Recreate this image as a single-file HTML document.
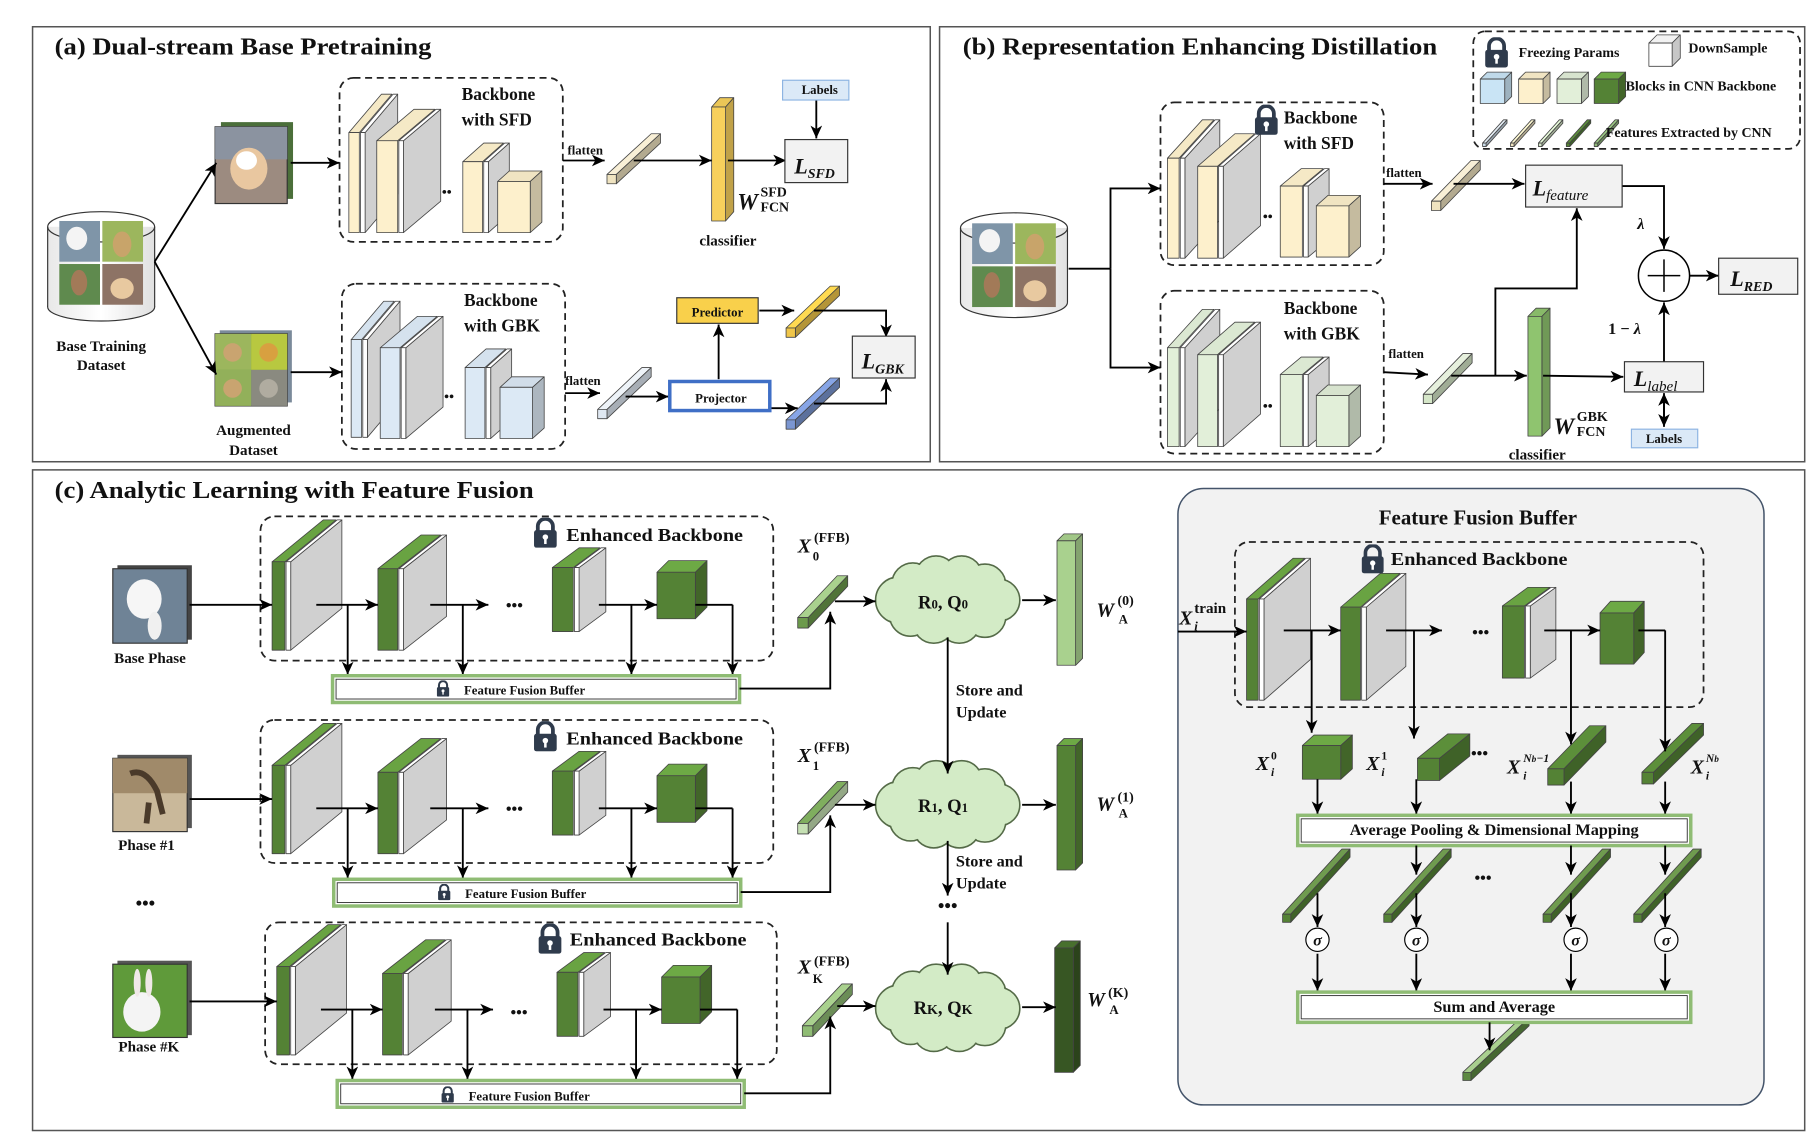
<!DOCTYPE html>
<html><head><meta charset="utf-8">
<style>
html,body{margin:0;padding:0;background:#fff;}
svg{display:block;}
text{font-family:"Liberation Serif",serif;font-weight:bold;fill:#111;}
.ln{stroke:#000;stroke-width:1.6;fill:none;}
.ar{stroke:#000;stroke-width:1.6;fill:none;marker-end:url(#ah);}
.dash{stroke:#222;stroke-width:1.5;fill:none;stroke-dasharray:6 4;}
.it{font-style:italic;}
</style></head>
<body>
<svg id="root" width="1814" height="1134" viewBox="0 0 1560 975" preserveAspectRatio="none" xmlns="http://www.w3.org/2000/svg">
<defs>
<marker id="ah" markerUnits="userSpaceOnUse" markerWidth="12" markerHeight="10" refX="11" refY="5" orient="auto">
<path d="M0,0 L11,5 L0,10 L3,5 z" fill="#000"/></marker>
<symbol id="lock" viewBox="0 0 20 24">
<path d="M4,11 V7 A6,6 0 0 1 16,7 V11" fill="none" stroke="#2f3b4c" stroke-width="3"/>
<rect x="1" y="10" width="18" height="14" rx="2" fill="#2f3b4c"/>
<circle cx="10" cy="15.5" r="2.2" fill="#fff"/><rect x="9" y="16" width="2" height="5" fill="#fff"/>
</symbol>
<linearGradient id="gbar" x1="0" y1="1" x2="1" y2="0"><stop offset="0" stop-color="#4f7a33"/><stop offset="1" stop-color="#b8d9a0"/></linearGradient>
<linearGradient id="gbar2" x1="0" y1="1" x2="1" y2="0"><stop offset="0" stop-color="#d5ecc3"/><stop offset="1" stop-color="#4f7a33"/></linearGradient>
<linearGradient id="cyl" x1="0" y1="0" x2="1" y2="0"><stop offset="0" stop-color="#e8e8e8"/><stop offset=".5" stop-color="#fff"/><stop offset="1" stop-color="#e0e0e0"/></linearGradient>
</defs>

<!-- panels -->
<rect x="28" y="23" width="772" height="374" fill="#fff" stroke="#555" stroke-width="1.3"/>
<rect x="808" y="23" width="744" height="374" fill="#fff" stroke="#555" stroke-width="1.3"/>
<rect x="28" y="404" width="1524" height="568" fill="#fff" stroke="#555" stroke-width="1.3"/>
<rect x="1013" y="420" width="504" height="530" rx="22" fill="#f2f2f2" stroke="#44546a" stroke-width="1.3"/>

<!-- dashed boxes -->
<rect class="dash" x="292" y="67" width="192" height="141" rx="12"/>
<rect class="dash" x="294" y="244" width="192" height="142" rx="12"/>
<rect class="dash" x="998" y="88" width="192" height="140" rx="12"/>
<rect class="dash" x="998" y="250" width="192" height="140" rx="12"/>
<rect class="dash" x="1267" y="27" width="281" height="101" rx="10"/>
<rect class="dash" x="224" y="444" width="441" height="124" rx="12"/>
<rect class="dash" x="224" y="619" width="441" height="123" rx="12"/>
<rect class="dash" x="228" y="793" width="440" height="122" rx="12"/>
<rect class="dash" x="1062" y="466" width="403" height="142" rx="12"/>

<g id="shapes"></g>

<!-- images (a) -->
<g>
<ellipse cx="87" cy="264" rx="46" ry="12" fill="url(#cyl)" stroke="#333"/>
<rect x="41" y="195" width="92" height="69" fill="url(#cyl)"/>
<line x1="41" y1="195" x2="41" y2="264" stroke="#333"/><line x1="133" y1="195" x2="133" y2="264" stroke="#333"/>
<ellipse cx="87" cy="195" rx="46" ry="13" fill="none" stroke="#333"/>
<rect x="51" y="190" width="35" height="35" fill="#7f95a8"/><ellipse cx="66" cy="205" rx="9" ry="10" fill="#f4f4f4"/>
<rect x="88" y="190" width="35" height="35" fill="#9cb65d"/><ellipse cx="105" cy="210" rx="8" ry="11" fill="#c8a46a"/>
<rect x="51" y="227" width="35" height="35" fill="#5f8a4e"/><ellipse cx="68" cy="243" rx="7" ry="11" fill="#a27a58"/>
<rect x="88" y="227" width="35" height="35" fill="#8d7365"/><ellipse cx="105" cy="248" rx="10" ry="9" fill="#e8c9a0"/>
</g>
<g>
<rect x="190" y="105" width="62" height="66" fill="#4b6f3a"/>
<rect x="185" y="109" width="62" height="66" fill="#9c8b80" stroke="#333"/>
<rect x="185" y="109" width="62" height="28" fill="#8b93a0"/>
<ellipse cx="214" cy="145" rx="16" ry="18" fill="#e9c7a0"/><ellipse cx="212" cy="138" rx="9" ry="8" fill="#fff"/>
</g>
<g>
<rect x="189" y="284" width="62" height="62" fill="#7a8a9a"/>
<rect x="185" y="287" width="62" height="62" fill="#6aa044" stroke="#333"/>
<rect x="185" y="287" width="31" height="31" fill="#9cb65d"/><rect x="216" y="287" width="31" height="31" fill="#b8c840"/>
<rect x="185" y="318" width="31" height="31" fill="#92b05a"/><rect x="216" y="318" width="31" height="31" fill="#8a8a80"/>
<circle cx="200" cy="303" r="8" fill="#c9a470"/><circle cx="231" cy="303" r="8" fill="#d8a040"/><circle cx="200" cy="334" r="8" fill="#c9a470"/><circle cx="231" cy="334" r="8" fill="#b0aca0"/>
</g>
<!-- images (b) cylinder -->
<g>
<ellipse cx="872" cy="260" rx="46" ry="13" fill="url(#cyl)" stroke="#333"/>
<rect x="826" y="196" width="92" height="64" fill="url(#cyl)"/>
<line x1="826" y1="196" x2="826" y2="260" stroke="#333"/><line x1="918" y1="196" x2="918" y2="260" stroke="#333"/>
<ellipse cx="872" cy="196" rx="46" ry="13" fill="none" stroke="#333"/>
<rect x="836" y="192" width="35" height="35" fill="#7f95a8"/><ellipse cx="851" cy="207" rx="9" ry="10" fill="#f4f4f4"/>
<rect x="873" y="192" width="35" height="35" fill="#9cb65d"/><ellipse cx="890" cy="212" rx="8" ry="11" fill="#c8a46a"/>
<rect x="836" y="229" width="35" height="35" fill="#5f8a4e"/><ellipse cx="853" cy="245" rx="7" ry="11" fill="#a27a58"/>
<rect x="873" y="229" width="35" height="35" fill="#8d7365"/><ellipse cx="890" cy="250" rx="10" ry="9" fill="#e8c9a0"/>
</g>
<!-- images (c) -->
<g>
<rect x="101" y="486" width="64" height="64" fill="#444"/>
<rect x="97" y="489" width="64" height="64" fill="#6f8396" stroke="#333"/>
<ellipse cx="124" cy="515" rx="15" ry="17" fill="#f6f6f6"/><ellipse cx="133" cy="538" rx="6" ry="12" fill="#f0f0f0"/>
<rect x="101" y="649" width="64" height="63" fill="#555"/>
<rect x="97" y="652" width="64" height="63" fill="#c9b89a" stroke="#333"/>
<rect x="97" y="652" width="64" height="30" fill="#a08a6a"/>
<path d="M112,665 Q125,660 135,680 L140,700 M128,690 L126,708" stroke="#4a3a2a" stroke-width="5" fill="none"/>
<rect x="101" y="826" width="64" height="64" fill="#555"/>
<rect x="97" y="829" width="64" height="63" fill="#5f9a3a" stroke="#333"/>
<ellipse cx="122" cy="870" rx="16" ry="17" fill="#f4f4f4"/><ellipse cx="118" cy="845" rx="3" ry="12" fill="#f0e8e8"/><ellipse cx="128" cy="845" rx="3" ry="12" fill="#f0e8e8"/>
</g>

<!-- clouds -->
<g id="clouds"></g>

<!-- connectors (a) -->
<line class="ar" x1="133" y1="225" x2="186" y2="140"/>
<line class="ar" x1="133" y1="225" x2="186" y2="322"/>
<line class="ar" x1="250" y1="140" x2="292" y2="140"/>
<line class="ar" x1="250" y1="320" x2="294" y2="320"/>
<line class="ar" x1="484" y1="138" x2="520" y2="138"/>
<line class="ar" x1="545" y1="138" x2="612" y2="138"/>
<line class="ar" x1="626" y1="138" x2="676" y2="138"/>
<line class="ar" x1="702" y1="86" x2="702" y2="119"/>
<line class="ar" x1="486" y1="338" x2="516" y2="338"/>
<line class="ar" x1="538" y1="341" x2="575" y2="341"/>
<line class="ar" x1="618" y1="326" x2="618" y2="279"/>
<line class="ar" x1="653" y1="267" x2="683" y2="267"/>
<polyline class="ar" points="700,267 762,267 762,290"/>
<line class="ar" x1="661" y1="351" x2="686" y2="351"/>
<polyline class="ar" points="700,347 762,347 762,326"/>
<!-- (b) -->
<polyline class="ln" points="919,231 955,231"/>
<polyline class="ar" points="955,231 955,162 998,162"/>
<polyline class="ar" points="955,231 955,316 998,316"/>
<line class="ar" x1="1190" y1="158" x2="1232" y2="158"/>
<line class="ar" x1="1250" y1="158" x2="1311" y2="158"/>
<polyline class="ar" points="1395,160 1431,160 1431,214"/>
<line class="ar" x1="1453" y1="237" x2="1478" y2="237"/>
<line class="ar" x1="1190" y1="320" x2="1228" y2="322"/>
<line class="ar" x1="1248" y1="323" x2="1313" y2="323"/>
<polyline class="ar" points="1286,323 1286,248 1356,248 1356,179"/>
<line class="ar" x1="1327" y1="323" x2="1396" y2="324"/>
<line class="ar" x1="1431" y1="311" x2="1431" y2="260"/>
<line class="ar" x1="1431" y1="345" x2="1431" y2="367"/>
<line class="ar" x1="1431" y1="360" x2="1431" y2="338"/>
<circle cx="1431" cy="237" r="22" fill="#fff" stroke="#000" stroke-width="1.3"/>
<path d="M1417,237 H1445 M1431,223 V251" stroke="#000" stroke-width="1.3"/>

<!-- (c) rows -->
<g id="row0">
<line class="ar" x1="163" y1="520" x2="234" y2="520"/>
<line class="ar" x1="272" y1="520" x2="325" y2="520"/>
<line class="ar" x1="370" y1="520" x2="420" y2="520"/>
<line class="ar" x1="515" y1="520" x2="565" y2="520"/>
<polyline class="ln" points="598,520 630,520"/>
<line class="ar" x1="299" y1="520" x2="299" y2="580"/>
<line class="ar" x1="398" y1="520" x2="398" y2="580"/>
<line class="ar" x1="543" y1="520" x2="543" y2="580"/>
<line class="ar" x1="630" y1="520" x2="630" y2="580"/>
<rect x="286" y="581" width="350" height="23" fill="#fff" stroke="#8fbc74" stroke-width="3"/>
<rect x="289" y="584" width="344" height="17" fill="#fff" stroke="#333" stroke-width="0.8"/>
<polyline class="ar" points="636,592 714,592 714,526"/>
<line class="ar" x1="718" y1="517" x2="753" y2="517"/>
<line class="ar" x1="879" y1="516" x2="908" y2="516"/>
</g>
<g transform="translate(0,175)">
<line class="ar" x1="163" y1="512" x2="234" y2="512"/>
<line class="ar" x1="272" y1="520" x2="325" y2="520"/>
<line class="ar" x1="370" y1="520" x2="420" y2="520"/>
<line class="ar" x1="515" y1="520" x2="565" y2="520"/>
<polyline class="ln" points="598,520 630,520"/>
<line class="ar" x1="299" y1="520" x2="299" y2="580"/>
<line class="ar" x1="398" y1="520" x2="398" y2="580"/>
<line class="ar" x1="543" y1="520" x2="543" y2="580"/>
<line class="ar" x1="630" y1="520" x2="630" y2="580"/>
<rect x="287" y="581" width="350" height="23" fill="#fff" stroke="#8fbc74" stroke-width="3"/>
<rect x="290" y="584" width="344" height="17" fill="#fff" stroke="#333" stroke-width="0.8"/>
<polyline class="ar" points="637,592 714,592 714,526"/>
<line class="ar" x1="718" y1="517" x2="753" y2="517"/>
<line class="ar" x1="879" y1="517" x2="908" y2="517"/>
</g>
<g transform="translate(4,348)">
<line class="ar" x1="159" y1="513" x2="234" y2="513"/>
<line class="ar" x1="272" y1="520" x2="325" y2="520"/>
<line class="ar" x1="370" y1="520" x2="420" y2="520"/>
<line class="ar" x1="515" y1="520" x2="565" y2="520"/>
<polyline class="ln" points="598,520 630,520"/>
<line class="ar" x1="299" y1="520" x2="299" y2="580"/>
<line class="ar" x1="398" y1="520" x2="398" y2="580"/>
<line class="ar" x1="543" y1="520" x2="543" y2="580"/>
<line class="ar" x1="630" y1="520" x2="630" y2="580"/>
<rect x="286" y="581" width="350" height="23" fill="#fff" stroke="#8fbc74" stroke-width="3"/>
<rect x="289" y="584" width="344" height="17" fill="#fff" stroke="#333" stroke-width="0.8"/>
<polyline class="ar" points="636,592 710,592 710,526"/>
<line class="ar" x1="716" y1="517" x2="749" y2="517"/>
<line class="ar" x1="875" y1="518" x2="904" y2="518"/>
</g>
<line class="ar" x1="815" y1="548" x2="815" y2="665"/>
<line class="ar" x1="815" y1="723" x2="815" y2="770"/>
<line class="ar" x1="815" y1="793" x2="815" y2="838"/>
<text x="815" y="784" text-anchor="middle" font-size="16">•••</text>

<!-- FFB panel connectors -->
<line class="ar" x1="1013" y1="543" x2="1072" y2="543"/>
<line class="ar" x1="1104" y1="542" x2="1153" y2="542"/>
<line class="ar" x1="1192" y1="542" x2="1240" y2="542"/>
<line class="ar" x1="1328" y1="542" x2="1376" y2="542"/>
<polyline class="ln" points="1409,542 1432,542"/>
<line class="ar" x1="1128" y1="542" x2="1128" y2="630"/>
<line class="ar" x1="1216" y1="542" x2="1216" y2="635"/>
<line class="ar" x1="1351" y1="542" x2="1351" y2="640"/>
<line class="ar" x1="1432" y1="542" x2="1432" y2="646"/>
<line class="ar" x1="1133" y1="670" x2="1133" y2="700"/>
<line class="ar" x1="1218" y1="670" x2="1218" y2="700"/>
<line class="ar" x1="1351" y1="672" x2="1351" y2="700"/>
<line class="ar" x1="1432" y1="672" x2="1432" y2="700"/>
<rect x="1116" y="701" width="338" height="26" fill="#fff" stroke="#8fbc74" stroke-width="3"/>
<rect x="1119" y="704" width="332" height="20" fill="#fff" stroke="#333" stroke-width="0.8"/>
<line class="ar" x1="1218" y1="727" x2="1218" y2="752"/>
<line class="ar" x1="1351" y1="727" x2="1351" y2="752"/>
<line class="ar" x1="1432" y1="727" x2="1432" y2="752"/>
<line class="ar" x1="1133" y1="768" x2="1133" y2="797"/>
<line class="ar" x1="1218" y1="768" x2="1218" y2="797"/>
<line class="ar" x1="1351" y1="768" x2="1351" y2="797"/>
<line class="ar" x1="1432" y1="768" x2="1432" y2="797"/>
<line class="ar" x1="1133" y1="820" x2="1133" y2="852"/>
<line class="ar" x1="1218" y1="820" x2="1218" y2="852"/>
<line class="ar" x1="1351" y1="820" x2="1351" y2="852"/>
<line class="ar" x1="1432" y1="820" x2="1432" y2="852"/>
<rect x="1116" y="853" width="338" height="26" fill="#fff" stroke="#8fbc74" stroke-width="3"/>
<rect x="1119" y="856" width="332" height="20" fill="#fff" stroke="#333" stroke-width="0.8"/>
<line class="ar" x1="1281" y1="879" x2="1281" y2="903"/>
<g fill="#fff" stroke="#000" stroke-width="1">
<circle cx="1133" cy="808" r="10"/><circle cx="1218" cy="808" r="10"/><circle cx="1355" cy="808" r="10"/><circle cx="1433" cy="808" r="10"/></g>

<!-- loss boxes -->
<rect x="675" y="120" width="54" height="37" fill="#f2f2f2" stroke="#333"/>
<rect x="673" y="69" width="57" height="17" fill="#dbe9f7" stroke="#8db4e2"/>
<rect x="733" y="289" width="54" height="36" fill="#f2f2f2" stroke="#333"/>
<rect x="582" y="256" width="70" height="22" fill="#f9d04b" stroke="#333"/>
<rect x="576" y="328" width="86" height="25" fill="#fff" stroke="#3f6fc6" stroke-width="3"/>
<rect x="1312" y="142" width="83" height="36" fill="#f2f2f2" stroke="#333"/>
<rect x="1478" y="222" width="68" height="31" fill="#f2f2f2" stroke="#333"/>
<rect x="1397" y="311" width="68" height="26" fill="#f2f2f2" stroke="#333"/>
<rect x="1403" y="369" width="57" height="16" fill="#dbe9f7" stroke="#8db4e2"/>

<!-- locks -->
<use href="#lock" x="1276" y="32" width="22" height="26"/>
<use href="#lock" x="1078" y="90" width="22" height="26"/>
<use href="#lock" x="457" y="445" width="24" height="26"/>
<use href="#lock" x="457" y="620" width="24" height="26"/>
<use href="#lock" x="461" y="794" width="24" height="26"/>
<use href="#lock" x="1169" y="468" width="23" height="25"/>
<use href="#lock" x="375" y="585" width="12" height="14"/>
<use href="#lock" x="376" y="760" width="12" height="14"/>
<use href="#lock" x="379" y="934" width="12" height="14"/>

<!-- TEXT -->
<text x="47" y="47" font-size="21" textLength="324" lengthAdjust="spacingAndGlyphs">(a) Dual-stream Base Pretraining</text>
<text x="828" y="47" font-size="21" textLength="408" lengthAdjust="spacingAndGlyphs">(b) Representation Enhancing Distillation</text>
<text x="47" y="428" font-size="21" textLength="412" lengthAdjust="spacingAndGlyphs">(c) Analytic Learning with Feature Fusion</text>

<g font-size="15">
<text x="397" y="86">Backbone</text><text x="397" y="108">with SFD</text>
<text x="399" y="263">Backbone</text><text x="399" y="285">with GBK</text>
<text x="1104" y="106">Backbone</text><text x="1104" y="128">with SFD</text>
<text x="1104" y="270">Backbone</text><text x="1104" y="292">with GBK</text>
</g>
<g font-size="11">
<text x="488" y="133">flatten</text><text x="486" y="331">flatten</text>
<text x="1192" y="152">flatten</text><text x="1194" y="308">flatten</text>
<text x="705" y="81" text-anchor="middle">Labels</text>
<text x="617" y="272" text-anchor="middle">Predictor</text>
<text x="620" y="346" text-anchor="middle">Projector</text>
<text x="1431" y="381" text-anchor="middle">Labels</text>
</g>
<g font-size="13">
<text x="87" y="302" text-anchor="middle">Base Training</text><text x="87" y="318" text-anchor="middle">Dataset</text>
<text x="218" y="374" text-anchor="middle">Augmented</text><text x="218" y="391" text-anchor="middle">Dataset</text>
<text x="626" y="211" text-anchor="middle">classifier</text>
<text x="1322" y="395" text-anchor="middle">classifier</text>
<text x="129" y="570" text-anchor="middle">Base Phase</text>
<text x="126" y="731" text-anchor="middle">Phase #1</text>
<text x="128" y="904" text-anchor="middle">Phase #K</text>
</g>
<text x="125" y="782" text-anchor="middle" font-size="16">•••</text>
<!-- legend -->
<g font-size="12">
<text x="1306" y="49">Freezing Params</text>
<text x="1452" y="45">DownSample</text>
<text x="1398" y="78">Blocks in CNN Backbone</text>
<text x="1381" y="118">Features Extracted by CNN</text>
</g>
<!-- losses -->
<text x="683" y="149" font-size="19" class="it">L<tspan font-size="12" dy="4">SFD</tspan></text>
<text x="741" y="317" font-size="19" class="it">L<tspan font-size="12" dy="4">GBK</tspan></text>
<text x="1318" y="168" font-size="19" class="it">L<tspan font-size="13" dy="4" font-weight="normal">feature</tspan></text>
<text x="1488" y="246" font-size="19" class="it">L<tspan font-size="12" dy="4">RED</tspan></text>
<text x="1405" y="332" font-size="19" class="it">L<tspan font-size="13" dy="4" font-weight="normal">label</tspan></text>
<text x="1408" y="197" font-size="14" class="it" font-weight="normal">λ</text>
<text x="1383" y="287" font-size="14" font-weight="normal">1 − <tspan class="it">λ</tspan></text>
<text x="634" y="180" font-size="20" class="it">W</text><text x="654" y="169" font-size="12">SFD</text><text x="654" y="182" font-size="12">FCN</text>
<text x="1336" y="373" font-size="20" class="it">W</text><text x="1356" y="362" font-size="12">GBK</text><text x="1356" y="375" font-size="12">FCN</text>

<!-- enhanced backbone labels -->
<g font-size="15">
<text x="487" y="465" textLength="152" lengthAdjust="spacingAndGlyphs">Enhanced Backbone</text>
<text x="487" y="640" textLength="152" lengthAdjust="spacingAndGlyphs">Enhanced Backbone</text>
<text x="490" y="813" textLength="152" lengthAdjust="spacingAndGlyphs">Enhanced Backbone</text>
<text x="1196" y="486" textLength="152" lengthAdjust="spacingAndGlyphs">Enhanced Backbone</text>
</g>
<g font-size="11">
<text x="399" y="597">Feature Fusion Buffer</text>
<text x="400" y="772">Feature Fusion Buffer</text>
<text x="403" y="946">Feature Fusion Buffer</text>
</g>
<g font-size="14">
<text x="822" y="598">Store and</text><text x="822" y="617">Update</text>
<text x="822" y="745">Store and</text><text x="822" y="764">Update</text>
</g>
<!-- X FFB labels -->
<g>
<text x="686" y="475" font-size="17" class="it">X</text><text x="699" y="482" font-size="11">0</text><text x="700" y="466" font-size="12" font-weight="normal">(FFB)</text>
<text x="686" y="655" font-size="17" class="it">X</text><text x="699" y="662" font-size="11">1</text><text x="700" y="646" font-size="12" font-weight="normal">(FFB)</text>
<text x="686" y="837" font-size="17" class="it">X</text><text x="699" y="845" font-size="11">K</text><text x="700" y="830" font-size="12" font-weight="normal">(FFB)</text>
</g>
<g>
<text x="943" y="530" font-size="17" class="it">W</text><text x="962" y="536" font-size="11">A</text><text x="961" y="520" font-size="12" font-weight="normal">(0)</text>
<text x="943" y="697" font-size="17" class="it">W</text><text x="962" y="703" font-size="11">A</text><text x="961" y="689" font-size="12" font-weight="normal">(1)</text>
<text x="935" y="865" font-size="17" class="it">W</text><text x="954" y="872" font-size="11">A</text><text x="953" y="857" font-size="12" font-weight="normal">(K)</text>
</g>
<g font-size="16" text-anchor="middle">
<text x="811" y="523">R<tspan font-size="11">0</tspan>, Q<tspan font-size="11">0</tspan></text>
<text x="811" y="698">R<tspan font-size="11">1</tspan>, Q<tspan font-size="11">1</tspan></text>
<text x="811" y="872">R<tspan font-size="12">K</tspan>, Q<tspan font-size="12">K</tspan></text>
</g>
<!-- FFB panel text -->
<text x="1271" y="451" font-size="18" text-anchor="middle">Feature Fusion Buffer</text>
<text x="1014" y="537" font-size="17" class="it">X</text><text x="1027" y="542" font-size="11" class="it">i</text><text x="1027" y="527" font-size="13" font-weight="normal">train</text>
<text x="1080" y="662" font-size="17" class="it">X</text><text x="1093" y="667" font-size="10" class="it">i</text><text x="1093" y="653" font-size="10">0</text>
<text x="1175" y="662" font-size="17" class="it">X</text><text x="1188" y="667" font-size="10" class="it">i</text><text x="1188" y="653" font-size="10">1</text>
<text x="1265" y="652" font-size="14">•••</text>
<text x="1296" y="665" font-size="17" class="it">X</text><text x="1310" y="670" font-size="10" class="it">i</text><text x="1310" y="655" font-size="10" class="it">N<tspan font-size="8">b</tspan>−1</text>
<text x="1454" y="665" font-size="17" class="it">X</text><text x="1467" y="670" font-size="10" class="it">i</text><text x="1467" y="655" font-size="10" class="it">N<tspan font-size="8">b</tspan></text>
<text x="1266" y="548" font-size="14">•••</text>
<text x="435" y="525" font-size="14">•••</text>
<text x="435" y="700" font-size="14">•••</text>
<text x="439" y="875" font-size="14">•••</text>
<text x="1086" y="190" font-size="12">••</text>
<text x="1086" y="353" font-size="12">••</text>
<text x="380" y="169" font-size="12">••</text>
<text x="382" y="345" font-size="12">••</text>
<text x="1268" y="759" font-size="14">•••</text>
<text x="1285" y="718" font-size="14" text-anchor="middle">Average Pooling &amp; Dimensional Mapping</text>
<text x="1285" y="870" font-size="14" text-anchor="middle">Sum and Average</text>
<g font-size="14" class="it" text-anchor="middle">
<text x="1133" y="813">σ</text><text x="1218" y="813">σ</text><text x="1355" y="813">σ</text><text x="1433" y="813">σ</text></g>

<script>
(function(){
var NS="http://www.w3.org/2000/svg",S=document.getElementById('shapes'),C=document.getElementById('clouds');
function P(pts,fill,par,st){var e=document.createElementNS(NS,'polygon');e.setAttribute('points',pts.map(function(p){return p[0]+','+p[1]}).join(' '));e.setAttribute('fill',fill);e.setAttribute('stroke',st||'#444');e.setAttribute('stroke-width','0.7');e.setAttribute('stroke-linejoin','round');(par||S).appendChild(e);}
function shade(c,f){var n=parseInt(c.slice(1),16),r=(n>>16)&255,g=(n>>8)&255,b=n&255;r=Math.round(r*f);g=Math.round(g*f);b=Math.round(b*f);return 'rgb('+Math.min(r,255)+','+Math.min(g,255)+','+Math.min(b,255)+')';}
function plate(x,y,fw,h,dx,dy,c){var wx=x+fw+1,gw=4;
 P([[wx+gw,y],[wx+gw+dx,y-dy],[wx+gw+dx,y+h-dy],[wx+gw,y+h]],'#d0d0d0');
 P([[wx,y],[wx+dx,y-dy],[wx+gw+dx,y-dy],[wx+gw,y]],'#fff');
 P([[wx,y],[wx+gw,y],[wx+gw,y+h],[wx,y+h]],'#fff');
 P([[x,y],[x+dx,y-dy],[x+fw+dx,y-dy],[x+fw,y]],shade(c,c=='#548235'?1.25:0.97));
 P([[x,y],[x+fw,y],[x+fw,y+h],[x,y+h]],c);}
function cube(x,y,w,h,dx,dy,c,p){
 P([[x,y],[x+dx,y-dy],[x+w+dx,y-dy],[x+w,y]],shade(c,c.indexOf('#5')==0||c.indexOf('#3')==0?1.3:0.95),p);
 P([[x+w,y],[x+w+dx,y-dy],[x+w+dx,y+h-dy],[x+w,y+h]],shade(c,0.78),p);
 P([[x,y],[x+w,y],[x+w,y+h],[x,y+h]],c,p);}
function bar(x,y,dx,dy,t,c,tc){
 P([[x,y],[x+dx,y-dy],[x+dx+t,y-dy],[x+t,y]],tc||shade(c,1.1));
 P([[x+t,y],[x+t+dx,y-dy],[x+t+dx,y-dy+t],[x+t,y+t]],shade(c,0.75));
 P([[x,y],[x+t,y],[x+t,y+t],[x,y+t]],c);}
// (a) top
var Y='#fdf0cc',B='#dce9f5',G='#e2efd9',D='#548235';
plate(300,114,9,86,28,33,Y);plate(324,121,18,79,32,27,Y);plate(398,139,17,61,18,16,Y);cube(428,156,28,44,10,9,Y);
plate(302,292,9,84,28,33,B);plate(327,299,17,78,32,27,B);plate(400,316,17,61,18,16,B);cube(430,333,28,44,10,9,B);
bar(522,150,38,35,8,'#efe3c0','#f8efd6');
cube(612,92,12,98,7,8,'#f7d05c');
bar(514,352,38,36,8,'#dfe8f2','#eef3f8');
bar(676,282,38,36,8,'#f0c64a');
bar(676,361,38,36,8,'#7b96d1');
// (b)
plate(1004,136,10,86,30,33,Y);plate(1030,143,17,79,32,28,Y);plate(1101,160,19,61,18,15,Y);cube(1132,177,28,44,10,9,Y);
plate(1004,299,10,85,30,33,G);plate(1030,305,17,79,32,28,G);plate(1101,322,19,62,18,15,G);cube(1132,340,28,44,10,9,G);
bar(1231,173,34,35,8,'#efe3c0','#f8efd6');
bar(1224,339,34,35,8,'#d5e6c8','#e6f0dd');
cube(1314,272,12,103,7,7,'#8fc46f');
// legend
cube(1418,37,20,20,7,7,'#ffffff');
cube(1273,68,21,21,6,6,'#c9e4f5');cube(1306,68,21,21,6,6,'#fdf0cc');cube(1339,68,21,21,6,6,'#e2efd9');cube(1371,68,21,21,6,6,'#548235');
bar(1275,123,18,20,3,'#c9dbe9','#e4edf5');bar(1299,123,18,20,3,'#efe3c0');bar(1323,123,18,20,3,'#d5e6c8');bar(1347,123,18,20,3,'#548235');bar(1371,123,18,20,3,'#8fb879');
// (c) rows
[[0,0],[0,175],[4,348]].forEach(function(o){var a=o[0],b=o[1];
 plate(234+a,483+b,11,76,44,36,D);plate(325+a,489+b,17,70,37,29,D);plate(475+a,488+b,18,55,23,17,D);cube(565+a,492+b,33,40,10,10,D);});
bar(686,531,34,36,9,'#6c9a4c','#a9d18e');
bar(686,708,34,36,9,'#c5e0b3','#7fae5e');
bar(690,882,34,36,9,'#8fbc74','#a9d18e');
cube(909,465,16,107,6,6,'#a9d18e');
cube(909,641,16,107,6,6,'#548235');
cube(907,815,16,107,6,6,'#375623');
// FFB panel
plate(1072,515,10,87,40,35,D);plate(1153,522,17,80,34,29,D);plate(1292,521,19,62,22,16,D);cube(1376,527,29,44,9,10,D);
cube(1120,641,33,29,10,9,D);
bar(1219,652,26,21,19,D);
bar(1331,661,36,37,14,D);
bar(1412,664,43,42,10,D);
[1103,1190,1327,1405].forEach(function(x){bar(x,786,51,56,7,D,'#6f9b4f');});
bar(1258,922,50,47,7,'#5d8a42','#a9cf8f');
// clouds
function cloud(cx,cy){var cs=[[-42,0,20],[-30,-14,18],[-10,-20,18],[12,-20,18],[32,-13,18],[44,0,18],[32,14,18],[10,19,18],[-12,19,18],[-32,13,18],[0,0,28]];
 cs.forEach(function(c){var e=document.createElementNS(NS,'circle');e.setAttribute('cx',cx+c[0]);e.setAttribute('cy',cy+c[1]);e.setAttribute('r',c[2]);e.setAttribute('fill','#d3ebc6');e.setAttribute('stroke','#556b48');e.setAttribute('stroke-width','1.4');C.appendChild(e);});
 cs.forEach(function(c){var e=document.createElementNS(NS,'circle');e.setAttribute('cx',cx+c[0]);e.setAttribute('cy',cy+c[1]);e.setAttribute('r',c[2]-0.8);e.setAttribute('fill','#d3ebc6');C.appendChild(e);});}
cloud(815,516);cloud(815,692);cloud(815,867);
})();
</script>
</svg>
</body></html>
